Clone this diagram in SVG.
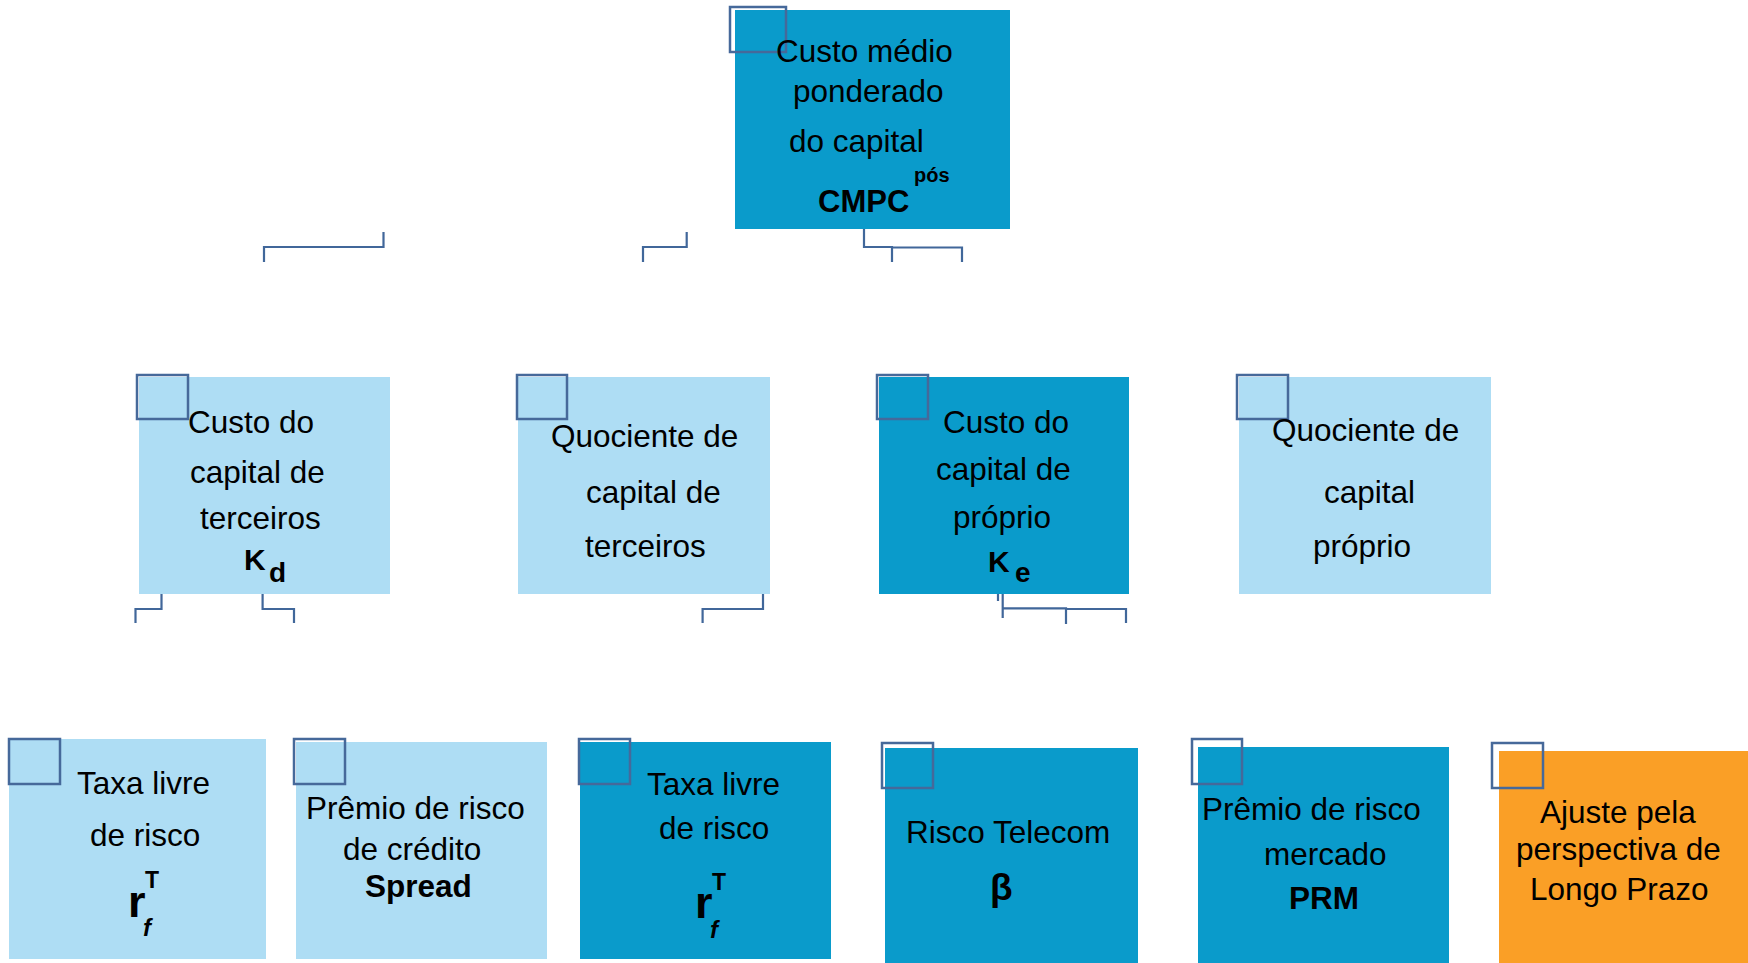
<svg xmlns="http://www.w3.org/2000/svg" width="1748" height="963" viewBox="0 0 1748 963">
<style>
.lt{fill:#AEDDF4}
.dk{fill:#0A9BCB}
.or{fill:#FA9F26}
.sq{fill:none;stroke:#46699A;stroke-width:2.5}
.t{font-family:"Liberation Sans",Arial,sans-serif;font-size:31.5px;fill:#000}
.b{font-family:"Liberation Sans",Arial,sans-serif;font-weight:bold;fill:#000}
.cn{fill:none;stroke:#41679A;stroke-width:2.2}
</style>
<rect width="1748" height="963" fill="#fff"/>
<g id="connectors">
<path class="cn" d="M383.5 232V247H264V262"/>
<path class="cn" d="M686.7 232V247H643V262"/>
<path class="cn" d="M864 229V247H892V262M892 247.5H962V262"/>
<path class="cn" d="M161.5 594V609H135.5V623"/>
<path class="cn" d="M262.6 594V609H294V623"/>
<path class="cn" d="M763 594V609H702.6V623"/>
<path class="cn" d="M998 582V601M1002.7 593V618M1002.7 608.3H1066V624M1066 609H1126V623"/>
</g>
<g id="cmpc">
<rect class="dk" x="735" y="10" width="275" height="219"/>
<rect class="sq" x="730" y="7" width="56" height="45"/>
<text class="t" x="776" y="62">Custo médio</text>
<text class="t" x="793" y="102">ponderado</text>
<text class="t" x="789" y="152">do capital</text>
<text class="b" x="818" y="212" font-size="31">CMPC</text>
<text class="b" x="914" y="182" font-size="20">pós</text>
</g>
<g id="kd">
<rect class="lt" x="139" y="377" width="251" height="217"/>
<rect class="sq" x="137" y="375" width="51" height="44"/>
<text class="t" x="188" y="433">Custo do</text>
<text class="t" x="190" y="483">capital de</text>
<text class="t" x="200" y="529">terceiros</text>
<text class="b" x="244" y="570" font-size="30">K</text>
<text class="b" x="269" y="582" font-size="28">d</text>
</g>
<g id="qt">
<rect class="lt" x="518" y="377" width="252" height="217"/>
<rect class="sq" x="517" y="375" width="50" height="44"/>
<text class="t" x="551" y="447" font-size="29">Quociente de</text>
<text class="t" x="586" y="503">capital de</text>
<text class="t" x="585" y="557">terceiros</text>
</g>
<g id="ke">
<rect class="dk" x="879" y="377" width="250" height="217"/>
<rect class="sq" x="877" y="375" width="51" height="44"/>
<text class="t" x="943" y="433">Custo do</text>
<text class="t" x="936" y="480">capital de</text>
<text class="t" x="953" y="528">próprio</text>
<text class="b" x="988" y="572" font-size="30">K</text>
<text class="b" x="1015" y="582" font-size="28">e</text>
</g>
<g id="qp">
<rect class="lt" x="1239" y="377" width="252" height="217"/>
<rect class="sq" x="1237" y="375" width="51" height="44"/>
<text class="t" x="1272" y="441" font-size="29">Quociente de</text>
<text class="t" x="1324" y="503">capital</text>
<text class="t" x="1313" y="557">próprio</text>
</g>
<g id="rf1">
<rect class="lt" x="9" y="739" width="257" height="220"/>
<rect class="sq" x="9" y="739" width="51" height="45"/>
<text class="t" x="77" y="794">Taxa livre</text>
<text class="t" x="90" y="846">de risco</text>
<text class="b" x="128" y="917" font-size="45">r</text>
<text class="b" x="145" y="888" font-size="23">T</text>
<text class="b" x="143" y="936" font-size="24" font-style="italic">f</text>
</g>
<g id="spread">
<rect class="lt" x="296" y="742" width="251" height="217"/>
<rect class="sq" x="294" y="739" width="51" height="45"/>
<text class="t" x="306" y="819">Prêmio de risco</text>
<text class="t" x="343" y="860">de crédito</text>
<text class="b" x="365" y="897" font-size="31.5">Spread</text>
</g>
<g id="rf2">
<rect class="dk" x="580" y="742" width="251" height="217"/>
<rect class="sq" x="579" y="739" width="51" height="45"/>
<text class="t" x="647" y="795">Taxa livre</text>
<text class="t" x="659" y="839">de risco</text>
<text class="b" x="695" y="918" font-size="45">r</text>
<text class="b" x="712" y="890" font-size="23">T</text>
<text class="b" x="710" y="938" font-size="24" font-style="italic">f</text>
</g>
<g id="beta">
<rect class="dk" x="885" y="748" width="253" height="215"/>
<rect class="sq" x="882" y="743" width="51" height="45"/>
<text class="t" x="906" y="843">Risco Telecom</text>
<text class="b" x="990" y="900" font-size="37">β</text>
</g>
<g id="prm">
<rect class="dk" x="1198" y="747" width="251" height="216"/>
<rect class="sq" x="1192" y="739" width="50" height="45"/>
<text class="t" x="1202" y="820">Prêmio de risco</text>
<text class="t" x="1264" y="865">mercado</text>
<text class="b" x="1289" y="909" font-size="31.5">PRM</text>
</g>
<g id="ajuste">
<rect class="or" x="1499" y="751" width="249" height="212"/>
<rect class="sq" x="1492" y="743" width="51" height="45"/>
<text class="t" x="1540" y="823">Ajuste pela</text>
<text class="t" x="1516" y="860">perspectiva de</text>
<text class="t" x="1530" y="900">Longo Prazo</text>
</g>
</svg>
